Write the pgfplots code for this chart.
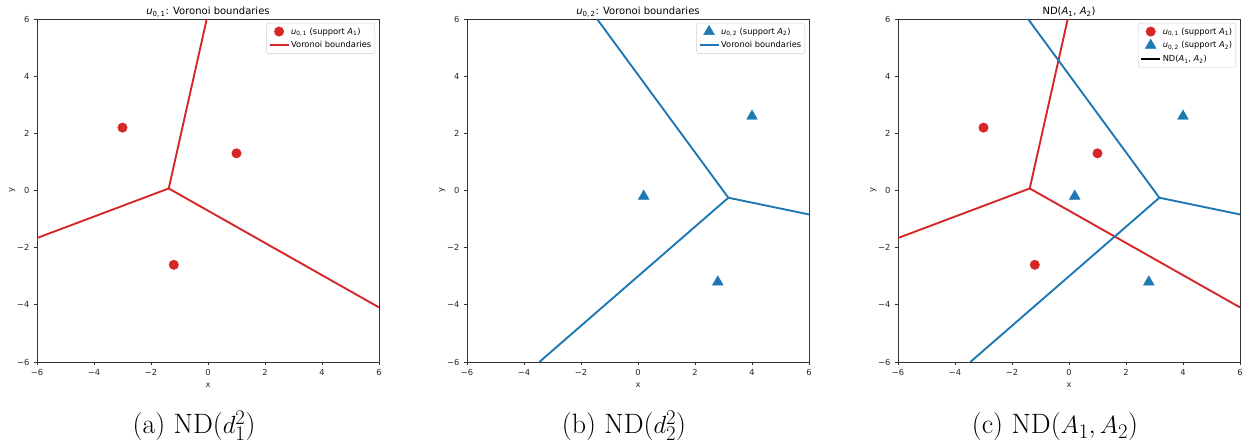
\documentclass[border=0pt]{standalone}
\usepackage{pgfplots}
\pgfplotsset{compat=1.18}
\usepackage{fontspec}
\newfontfamily\dv{DejaVu Sans}
\definecolor{tabred}{HTML}{D62728}
\definecolor{tabblue}{HTML}{1F77B4}
\newcommand{\sm}{\dv\fontsize{8.3}{10}\selectfont}
\pgfplotsset{
  vor/.style={
    scale only axis, width=342pt, height=343pt,
    xmin=-6, xmax=6, ymin=-6, ymax=6,
    xtick={-6,-4,-2,0,2,4,6}, ytick={-6,-4,-2,0,2,4,6},
    xticklabels={−6,−4,−2,0,2,4,6}, yticklabels={−6,−4,−2,0,2,4,6},
    tick align=outside, xtick pos=bottom, ytick pos=left,
    major tick length=3.5pt,
    every tick/.style={black!80, line width=0.8pt},
    axis line style={black!80, line width=0.8pt},
    ticklabel style={font=\sm, text=black!85},
    xticklabel style={yshift=0pt}, yticklabel style={xshift=-0.5pt},
    xlabel={x}, ylabel={y},
    label style={font=\sm, text=black!85},
    xlabel style={yshift=-1pt}, ylabel style={yshift=-5pt},
    title style={font=\dv\fontsize{10}{12}\selectfont, anchor=base, at={(0.5,1)}, yshift=-1.5pt, inner sep=0pt},
    legend cell align=left,
    legend style={at={(1,1)}, anchor=north east, xshift=-4pt, yshift=-4pt,
      draw=black!20, rounded corners=2pt, fill=white, font=\sm,
      row sep=0pt, inner xsep=2pt, inner ysep=1.5pt,
      nodes={inner sep=1.6pt, text depth=0.25em, text height=0.8em}},
    legend image code/.code={\draw[#1] (0pt,0pt) -- (19pt,0pt);},
    clip=true,
  },
  dots/.style={only marks, mark=*, mark size=4.75pt, color=tabred,
    legend image code/.code={\draw[#1] plot coordinates {(9.5pt,0pt)};}},
  tris/.style={only marks, mark=triangle*, mark size=6.2pt, color=tabblue,
    legend image code/.code={\draw[#1] plot coordinates {(9.5pt,0pt)};}},
  vline/.style={no marks, line width=1.9pt, line join=round},
}
\pgfplotstableread{
x y
-3.0 2.2
1.0 1.3
-1.2 -2.6
}\Aone
\pgfplotstableread{
x y
0.2 -0.2
4.0 2.6
2.8 -3.2
}\Atwo
\begin{document}
\begin{tikzpicture}[x=1pt,y=1pt]
\useasboundingbox (0,0) rectangle (1252,443);
% Panel (a)
\begin{axis}[vor, at={(37pt,81pt)}, anchor=south west,
  title={\textit{u}\textsubscript{0,\,1}: Voronoi boundaries}]
\addplot[dots] table {\Aone};
\addlegendentry{\textit{u}\textsubscript{0,\,1} (support \textit{A}\textsubscript{1})}
\addplot[vline, tabred] coordinates {(-0.044,6) (-1.378,0.071) (6,-4.090)};
\addlegendentry{Voronoi boundaries}
\addplot[vline, tabred, forget plot] coordinates {(-1.378,0.071) (-6,-1.663)};
\end{axis}
% Panel (b)
\begin{axis}[vor, at={(467pt,81pt)}, anchor=south west,
  title={\textit{u}\textsubscript{0,\,2}: Voronoi boundaries}]
\addplot[tris] table {\Atwo};
\addlegendentry{\textit{u}\textsubscript{0,\,2} (support \textit{A}\textsubscript{2})}
\addplot[vline, tabblue] coordinates {(-1.437,6) (3.170,-0.253) (6,-0.838)};
\addlegendentry{Voronoi boundaries}
\addplot[vline, tabblue, forget plot] coordinates {(3.170,-0.253) (-3.462,-6)};
\end{axis}
% Panel (c)
\begin{axis}[vor, at={(898pt,81pt)}, anchor=south west,
  title={ND(\textit{A}\textsubscript{1}, \textit{A}\textsubscript{2})}]
\addplot[dots] table {\Aone};
\addlegendentry{\textit{u}\textsubscript{0,\,1} (support \textit{A}\textsubscript{1})}
\addplot[tris] table {\Atwo};
\addlegendentry{\textit{u}\textsubscript{0,\,2} (support \textit{A}\textsubscript{2})}
\addlegendimage{black, line width=1.9pt}
\addlegendentry{ND(\textit{A}\textsubscript{1}, \textit{A}\textsubscript{2})}
\addplot[vline, tabred, forget plot] coordinates {(-0.044,6) (-1.378,0.071) (6,-4.090)};
\addplot[vline, tabred, forget plot] coordinates {(-1.378,0.071) (-6,-1.663)};
\addplot[vline, tabblue, forget plot] coordinates {(-1.437,6) (3.170,-0.253) (6,-0.838)};
\addplot[vline, tabblue, forget plot] coordinates {(3.170,-0.253) (-3.462,-6)};
\end{axis}
% Captions
\node[anchor=base, inner sep=0pt, font=\fontsize{28}{33}\selectfont] at (194,9) {(a) ND($d_1^2$)};
\node[anchor=base, inner sep=0pt, font=\fontsize{28}{33}\selectfont] at (624,9) {(b) ND($d_2^2$)};
\node[anchor=base, inner sep=0pt, font=\fontsize{28}{33}\selectfont] at (1055,9) {(c) ND($A_1, A_2$)};
\end{tikzpicture}
\end{document}
